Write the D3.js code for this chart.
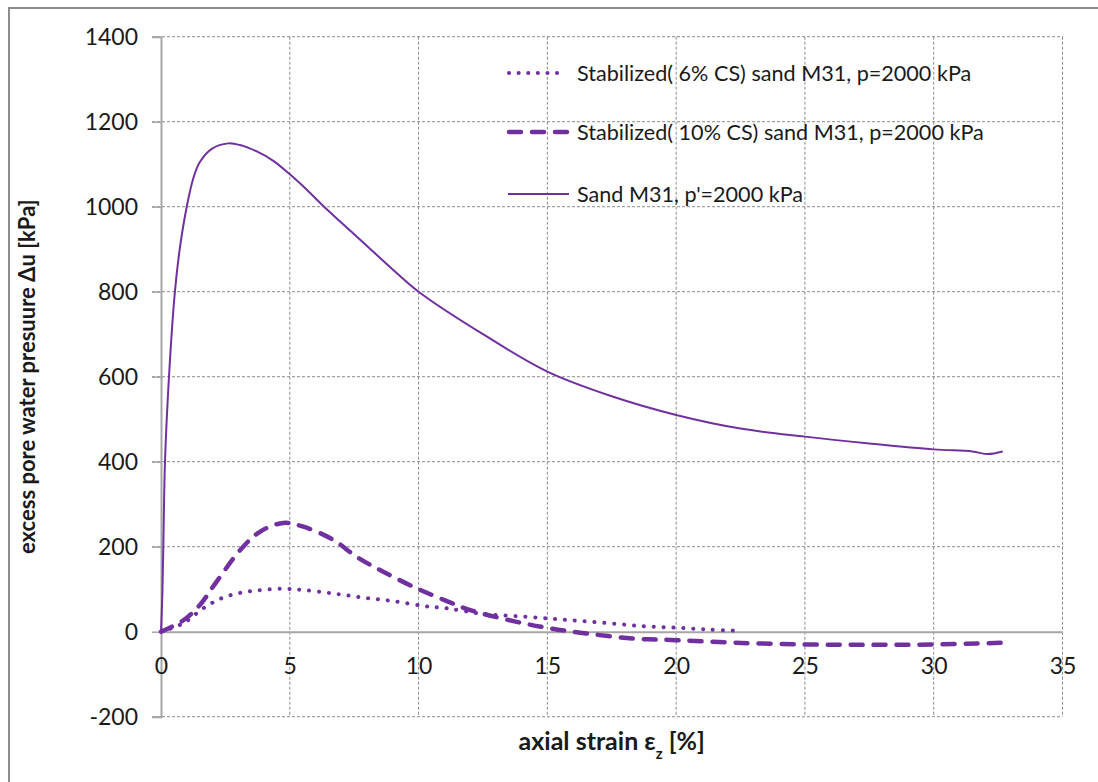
<!DOCTYPE html>
<html lang="en">
<head>
<meta charset="utf-8">
<title>excess pore water pressure</title>
<script src="https://cdn.jsdelivr.net/npm/d3@7"></script>
<style>
body { margin: 0; background: #ffffff; }
text { font-family: Lato, "Open Sans", sans-serif; fill: #1a1a1a; }
</style>
</head>
<body>
<div id="container"></div>
<script>
// axial strain [%] and excess pore water pressure [kPa]
var strainSand = [0, 0.02, 0.05, 0.09, 0.155, 0.31, 0.54, 0.74, 1.0, 1.26, 1.51, 1.97, 2.61, 3.07, 3.72, 4.36, 4.97, 5.66, 6.28, 7.5, 8.75, 10, 12.5, 15, 17.5, 20, 22.5, 25, 27.5, 30, 31.5, 32.1, 32.68];
var duSand     = [0, 30, 82, 200, 400, 600, 800, 906, 1000, 1068, 1105, 1136, 1149, 1145, 1130, 1108, 1078, 1040, 1003, 935, 866, 800, 700, 612, 554, 510, 478, 459, 443, 429, 424, 418, 424];

var strainCS10 = [0, 0.87, 1.51, 2.16, 3.13, 3.84, 4.75, 5.53, 6.69, 7.6, 8.63, 9.93, 11.1, 12.0, 13.68, 15, 16.5, 18.3, 20, 22.3, 25, 27.5, 30, 32.7];
var duCS10     = [0, 27, 63, 118, 196, 235, 256, 247, 216, 176, 141, 102, 72, 51, 25, 9, -4, -16, -20, -26, -30, -31, -30, -26];

var strainCS6 = [0, 0.87, 1.64, 2.36, 3.13, 3.9, 4.75, 5.53, 6.69, 7.86, 9.02, 10.25, 11.1, 12.5, 14.2, 15.7, 17.2, 18.7, 20, 21.3, 22.5];
var duCS6     = [0, 20, 55, 79, 92, 98, 101, 98, 90, 80, 72, 60, 55, 42, 35, 28, 21, 13, 9.5, 5, 2];

var xTicks = [0, 5, 10, 15, 20, 25, 30, 35];
var yTicks = [-200, 0, 200, 400, 600, 800, 1000, 1200, 1400];

var seriesNames = ["Stabilized( 6% CS) sand M31, p=2000 kPa",
                   "Stabilized( 10% CS) sand M31, p=2000 kPa",
                   "Sand M31, p'=2000 kPa"];

var w = 1098, h = 782;
var purple = "#7030a0";
var svg = d3.select("#container").append("svg")
    .attr("width", w).attr("height", h);

// chart border
svg.append("rect").attr("x", 9).attr("y", 8).attr("width", 1200).attr("height", 1000)
    .attr("fill", "none").attr("stroke", "#8c8c8c").attr("stroke-width", 2);

var x = d3.scaleLinear().domain([0, 35]).range([161, 1062.5]);
var y = d3.scaleLinear().domain([-200, 1400]).range([716.7, 36.7]);

// grid
svg.append("g").selectAll("line").data(yTicks.filter(function(d){ return d != 0; }))
    .enter().append("line")
    .attr("x1", 152).attr("x2", x(35))
    .attr("y1", function(d){ return y(d); }).attr("y2", function(d){ return y(d); })
    .attr("stroke", "#8a8a8a").attr("stroke-width", 1).attr("stroke-dasharray", "3 2");
svg.append("g").selectAll("line").data(xTicks.filter(function(d){ return d != 0; }))
    .enter().append("line")
    .attr("x1", function(d){ return x(d); }).attr("x2", function(d){ return x(d); })
    .attr("y1", y(1400)).attr("y2", y(-200))
    .attr("stroke", "#8a8a8a").attr("stroke-width", 1).attr("stroke-dasharray", "3 2");

// axes
var fmt = function(d){ return String(d); };
var yAxis = d3.axisLeft(y).tickValues(yTicks).tickFormat(fmt).tickSize(9).tickPadding(14);
var gy = svg.append("g").attr("transform", "translate(" + x(0) + ",0)").call(yAxis);
gy.select(".domain").attr("stroke", "#a6a6a6").attr("stroke-width", 2);
gy.selectAll(".tick line").attr("stroke", "#a6a6a6").attr("stroke-width", 1.5);
gy.selectAll(".tick text").style("font-size", "23px").style("font-family", "Lato, sans-serif").attr("fill", "#1a1a1a");

var xAxis = d3.axisBottom(x).tickValues(xTicks).tickFormat(fmt).tickSize(0).tickPadding(26);
var gx = svg.append("g").attr("transform", "translate(0," + y(0) + ")").call(xAxis);
gx.select(".domain").attr("stroke", "#a6a6a6").attr("stroke-width", 2);
gx.selectAll(".tick text").style("font-size", "23px").style("font-family", "Lato, sans-serif").attr("fill", "#1a1a1a");

// series
var line = d3.line().x(function(d){ return x(d[0]); }).y(function(d){ return y(d[1]); })
    .curve(d3.curveCatmullRom.alpha(0.5));

svg.append("path").datum(d3.zip(strainCS6, duCS6)).attr("d", line)
    .attr("fill", "none").attr("stroke", purple).attr("stroke-width", 4)
    .attr("stroke-linecap", "round").attr("stroke-dasharray", "0.1 9.8");
svg.append("path").datum(d3.zip(strainCS10, duCS10)).attr("d", line)
    .attr("fill", "none").attr("stroke", purple).attr("stroke-width", 4.5)
    .attr("stroke-linecap", "round").attr("stroke-dasharray", "12 11");
svg.append("path").datum(d3.zip(strainSand, duSand)).attr("d", line)
    .attr("fill", "none").attr("stroke", purple).attr("stroke-width", 2);

// legend
var legY = [73, 132, 194];
var leg = svg.append("g");
leg.append("line").attr("x1", 509).attr("x2", 566).attr("y1", legY[0]).attr("y2", legY[0])
    .attr("stroke", purple).attr("stroke-width", 4).attr("stroke-linecap", "round").attr("stroke-dasharray", "0.1 9.5");
leg.append("line").attr("x1", 509).attr("x2", 567).attr("y1", legY[1]).attr("y2", legY[1])
    .attr("stroke", purple).attr("stroke-width", 4.5).attr("stroke-linecap", "round").attr("stroke-dasharray", "12 11");
leg.append("line").attr("x1", 508).attr("x2", 569).attr("y1", legY[2]).attr("y2", legY[2])
    .attr("stroke", purple).attr("stroke-width", 2);
leg.selectAll("text").data(seriesNames).enter().append("text")
    .attr("x", 577).attr("y", function(d, i){ return legY[i]; })
    .attr("dy", "0.35em").style("font-size", "21.6px")
    .text(function(d){ return d; });

// axis titles
svg.append("text").attr("transform", "translate(35," + y(600) + ") rotate(-90)")
    .attr("text-anchor", "middle").style("font-size", "22px").style("font-weight", "bold")
    .text("excess pore water presuure \u0394u [kPa]");
var xt = svg.append("text").attr("x", x(17.5)).attr("y", 750)
    .attr("text-anchor", "middle").style("font-size", "25px").style("font-weight", "bold");
xt.append("tspan").text("axial strain \u03b5");
xt.append("tspan").attr("baseline-shift", "sub").style("font-size", "15px").text("z");
xt.append("tspan").text(" [%]");
</script>
</body>
</html>
